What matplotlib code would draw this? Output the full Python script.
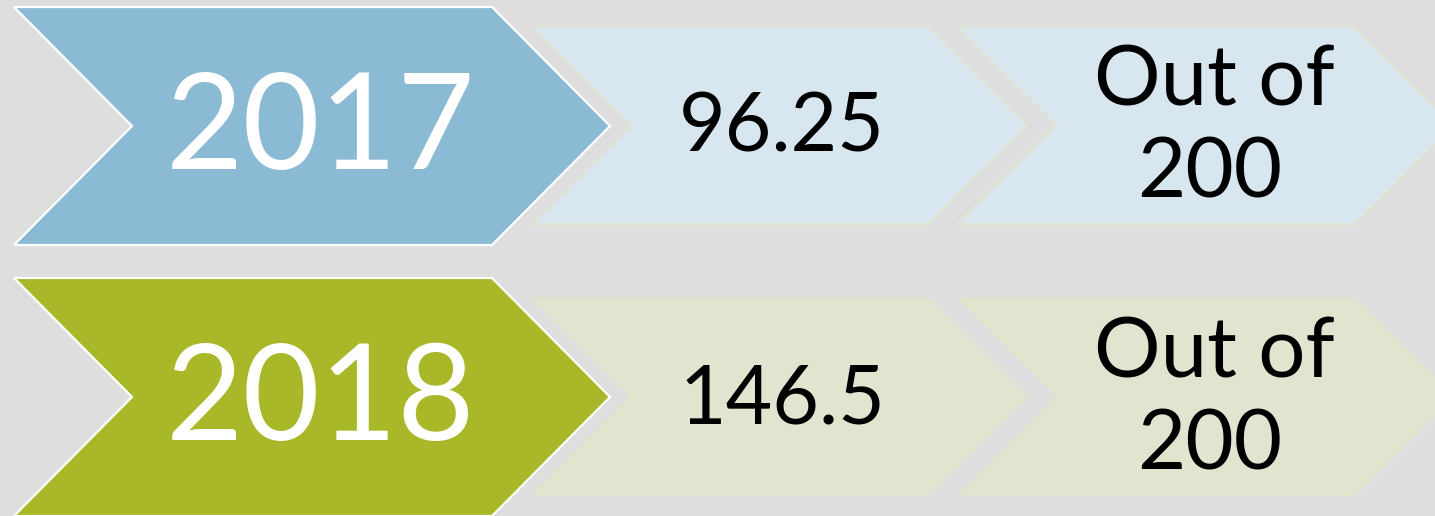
import matplotlib.pyplot as plt
from matplotlib.patches import Polygon

# data
years = ["2017", "2018"]
scores = ["96.25", "146.5"]
max_label = ["Out of", "200"]

# styles per row
dark_colors = ["#8BBAD4", "#A8B828"]
light_colors = ["#D8E6EF", "#E0E5CF"]
bg = "#DEDEDE"

plt.rcParams['font.family'] = ['Lato', 'DejaVu Sans']


def chevron(x0, top, bot, body, depth):
    mid = (top + bot) / 2
    return [(x0, top), (x0 + body, top), (x0 + body + depth, mid),
            (x0 + body, bot), (x0, bot), (x0 + depth, mid)]


fig = plt.figure(figsize=(14.35, 5.16), dpi=100)
fig.patch.set_facecolor(bg)
ax = fig.add_axes([0, 0, 1, 1])
ax.set_xlim(0, 1435)
ax.set_ylim(516, 0)
ax.axis('off')

row_step = 271
for i, year in enumerate(years):
    dy = i * row_step
    # big chevron with the year
    ax.add_patch(Polygon(chevron(14, 7 + dy, 245 + dy, 478, 118),
                         closed=True, facecolor=dark_colors[i],
                         edgecolor='white', linewidth=1.6))
    # two smaller chevrons
    for x0 in [532, 958]:
        ax.add_patch(Polygon(chevron(x0, 27 + dy, 224 + dy, 396, 99),
                             closed=True, facecolor=light_colors[i],
                             edgecolor="#E3E6CC", linewidth=1.0))

    ax.text(321, 169 + dy, year, color='white', fontsize=96,
            ha='center', va='baseline')
    ax.text(782, 152 + dy, scores[i], color='black', fontsize=58,
            ha='center', va='baseline')
    ax.text(1214, 106 + dy, max_label[0], color='black', fontsize=60,
            ha='center', va='baseline')
    ax.text(1210, 198 + dy, max_label[1], color='black', fontsize=60,
            ha='center', va='baseline')

fig.savefig("out.png", dpi=100, facecolor=bg)
